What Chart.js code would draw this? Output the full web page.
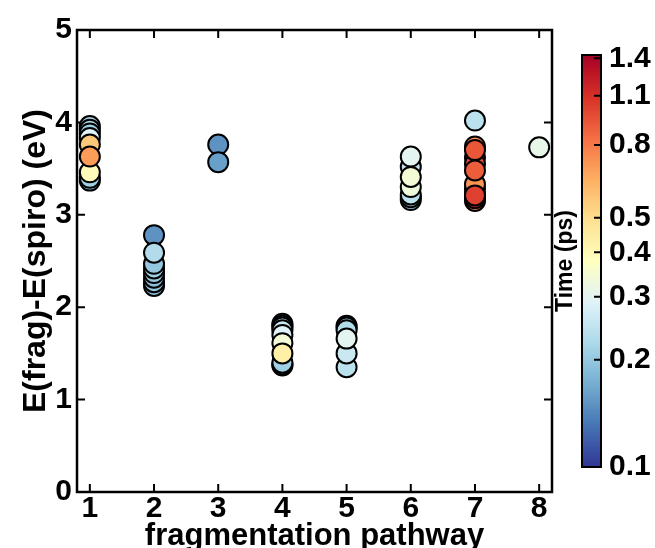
<!DOCTYPE html>
<html>
<head>
<meta charset="utf-8">
<title>Fragmentation pathways</title>
<script src="https://cdn.jsdelivr.net/npm/chart.js@4.4.1/dist/chart.umd.min.js"></script>
<style>
  html, body { margin: 0; padding: 0; background: #fff; }
  #wrap { position: relative; width: 655px; height: 548px; overflow: hidden; }
  #wrap canvas { position: absolute; left: 0; top: 0; }
</style>
</head>
<body>
<div id="wrap">
  <canvas id="energyChart" width="655" height="548"></canvas>
  <canvas id="timeBar" width="655" height="548"></canvas>
</div>
<script>
// one entry per trajectory, in plotting order (later points are drawn on top)
var pathway = [
  1, 1, 1, 1, 1, 1, 1, 1, 1,
  2, 2, 2, 2, 2, 2, 2, 2,
  3, 3,
  4, 4, 4, 4, 4, 4, 4, 4, 4, 4,
  5, 5, 5, 5, 5, 5,
  6, 6, 6, 6, 6, 6, 6,
  7, 7, 7, 7, 7, 7, 7, 7, 7, 7, 7, 7,
  8
];
var energy = [
  3.37, 3.40, 3.46, 3.96, 3.92, 3.88, 3.83, 3.76, 3.63,
  2.23, 2.27, 2.32, 2.37, 2.42, 2.47, 2.78, 2.59,
  3.76, 3.57,
  1.37, 1.38, 1.40, 1.82, 1.80, 1.78, 1.75, 1.70, 1.61, 1.50,
  1.35, 1.50, 1.80, 1.78, 1.75, 1.66,
  3.16, 3.19, 3.22, 3.52, 3.30, 3.41, 3.63,
  3.15, 3.18, 3.22, 3.28, 3.33, 3.74, 3.62, 3.55, 3.48, 3.70, 3.21, 4.02,
  3.73
];
var timePs = [
  0.20, 0.21, 0.39, 0.22, 0.23, 0.21, 0.29, 0.56, 0.69,
  0.19, 0.20, 0.19, 0.20, 0.21, 0.20, 0.15, 0.23,
  0.15, 0.16,
  0.18, 0.20, 0.21, 0.22, 0.24, 0.25, 0.26, 0.29, 0.34, 0.43,
  0.24, 0.26, 0.21, 0.22, 0.23, 0.30,
  0.21, 0.22, 0.24, 0.25, 0.33, 0.34, 0.30,
  0.75, 1.10, 1.00, 0.80, 0.72, 0.72, 0.93, 0.95, 0.90, 0.93, 1.02, 0.24,
  0.31
];

var xTicks = [1, 2, 3, 4, 5, 6, 7, 8];
var yTicks = [0, 1, 2, 3, 4, 5];
var timeTicks = [0.1, 0.2, 0.3, 0.4, 0.5, 0.8, 1.1, 1.4];

var TIME_MIN = 0.1, TIME_MAX = 1.43;

// RdYlBu reversed: low times blue, high times red
var rdylbu_r = [
  [49, 54, 149], [69, 117, 180], [116, 173, 209], [171, 217, 233],
  [224, 243, 248], [255, 255, 191], [254, 224, 144], [253, 174, 97],
  [244, 109, 67], [215, 48, 39], [165, 0, 38]
];

function timeColour(t) {
  var f = (Math.log(t) - Math.log(TIME_MIN)) / (Math.log(TIME_MAX) - Math.log(TIME_MIN));
  f = Math.min(1, Math.max(0, f)) * (rdylbu_r.length - 1);
  var i = Math.min(Math.floor(f), rdylbu_r.length - 2);
  var k = f - i;
  var a = rdylbu_r[i], b = rdylbu_r[i + 1];
  return 'rgb(' + Math.round(a[0] + (b[0] - a[0]) * k) + ',' +
                  Math.round(a[1] + (b[1] - a[1]) * k) + ',' +
                  Math.round(a[2] + (b[2] - a[2]) * k) + ')';
}

Chart.defaults.font.family = '"Liberation Sans", Arial, Helvetica, sans-serif';
Chart.defaults.color = '#000';

var points = pathway.map(function (p, i) { return { x: p, y: energy[i] }; });

function fixedTicks(values) {
  return function (scale) {
    scale.ticks = values.map(function (v) { return { value: v }; });
  };
}

// box around the plot with inward ticks on all four sides
var frame = {
  id: 'frame',
  beforeDatasetsDraw: function (chart) {
    var ctx = chart.ctx, a = chart.chartArea;
    var xs = chart.scales.x, ys = chart.scales.y;
    var len = 8;
    ctx.save();
    ctx.strokeStyle = '#000';
    ctx.lineWidth = 2;
    ctx.beginPath();
    xs.ticks.forEach(function (t) {
      var px = xs.getPixelForValue(t.value);
      ctx.moveTo(px, a.bottom); ctx.lineTo(px, a.bottom - len);
      ctx.moveTo(px, a.top); ctx.lineTo(px, a.top + len);
    });
    ys.ticks.forEach(function (t) {
      var py = ys.getPixelForValue(t.value);
      ctx.moveTo(a.left, py); ctx.lineTo(a.left + len, py);
      ctx.moveTo(a.right, py); ctx.lineTo(a.right - len, py);
    });
    ctx.stroke();
    ctx.lineWidth = 2.5;
    ctx.strokeRect(a.left, a.top, a.right - a.left, a.bottom - a.top);
    ctx.restore();
  }
};

new Chart(document.getElementById('energyChart'), {
  type: 'scatter',
  data: {
    datasets: [{
      data: points,
      pointRadius: 10,
      pointHoverRadius: 10,
      borderWidth: 2,
      borderColor: '#000',
      backgroundColor: function (c) { return timeColour(timePs[c.dataIndex]); }
    }]
  },
  options: {
    responsive: false,
    animation: false,
    events: [],
    layout: { padding: { left: 0, top: 30, right: 103, bottom: 0 } },
    plugins: { legend: { display: false }, tooltip: { enabled: false } },
    scales: {
      x: {
        type: 'linear',
        min: 0.8,
        max: 8.2,
        afterBuildTicks: fixedTicks(xTicks),
        afterFit: function (s) { s.height = 56; },
        grid: { display: false, drawTicks: false },
        border: { display: false },
        ticks: { padding: 2, font: { size: 30, weight: 'bold', lineHeight: 1 } },
        title: {
          display: true,
          text: 'fragmentation pathway',
          font: { size: 31, weight: 'bold' },
          padding: { top: 0, bottom: -7 }
        }
      },
      y: {
        type: 'linear',
        min: 0,
        max: 5,
        afterBuildTicks: fixedTicks(yTicks),
        afterFit: function (s) { s.width = 77; },
        grid: { display: false, drawTicks: false },
        border: { display: false },
        ticks: { padding: 5, font: { size: 30, weight: 'bold' } },
        title: {
          display: true,
          text: 'E(frag)-E(spiro) (eV)',
          font: { size: 32, weight: 'bold' },
          padding: { top: 17, bottom: 0 }
        }
      }
    }
  },
  plugins: [frame]
});

// colour bar: gradient painted row by row from the log time scale
var colourBar = {
  id: 'colourBar',
  beforeDraw: function (chart) {
    var ctx = chart.ctx, a = chart.chartArea, s = chart.scales.y;
    for (var py = Math.floor(a.top); py < a.bottom; py++) {
      ctx.fillStyle = timeColour(s.getValueForPixel(py + 0.5));
      ctx.fillRect(a.left, py, a.right - a.left, 1);
    }
  },
  afterDraw: function (chart) {
    var ctx = chart.ctx, a = chart.chartArea, s = chart.scales.y;
    ctx.save();
    ctx.strokeStyle = '#000';
    ctx.lineWidth = 2;
    ctx.beginPath();
    s.ticks.forEach(function (t) {
      var py = s.getPixelForValue(t.value);
      ctx.moveTo(a.right, py); ctx.lineTo(a.right - 7, py);
    });
    ctx.stroke();
    ctx.strokeRect(a.left, a.top, a.right - a.left, a.bottom - a.top);
    ctx.restore();
  }
};

new Chart(document.getElementById('timeBar'), {
  type: 'scatter',
  data: { datasets: [] },
  options: {
    responsive: false,
    animation: false,
    events: [],
    layout: { padding: { left: 552, top: 55, right: 0, bottom: 81 } },
    plugins: { legend: { display: false }, tooltip: { enabled: false } },
    scales: {
      x: { type: 'linear', display: false, min: 0, max: 1 },
      y: {
        type: 'logarithmic',
        position: 'right',
        min: TIME_MIN,
        max: TIME_MAX,
        afterBuildTicks: fixedTicks(timeTicks),
        afterFit: function (s) { s.width = 54; },
        grid: { display: false, drawTicks: false },
        border: { display: false },
        ticks: {
          padding: 8,
          font: { size: 30, weight: 'bold' },
          callback: function (v) { return String(v); }
        }
      },
      timeTitle: {
        type: 'linear',
        position: 'left',
        afterFit: function (s) { s.width = 30; },
        grid: { display: false, drawTicks: false },
        border: { display: false },
        ticks: { display: false },
        title: {
          display: true,
          text: 'Time (ps)',
          font: { size: 23, weight: 'bold' },
          padding: 0
        }
      }
    }
  },
  plugins: [colourBar]
});
</script>
</body>
</html>
